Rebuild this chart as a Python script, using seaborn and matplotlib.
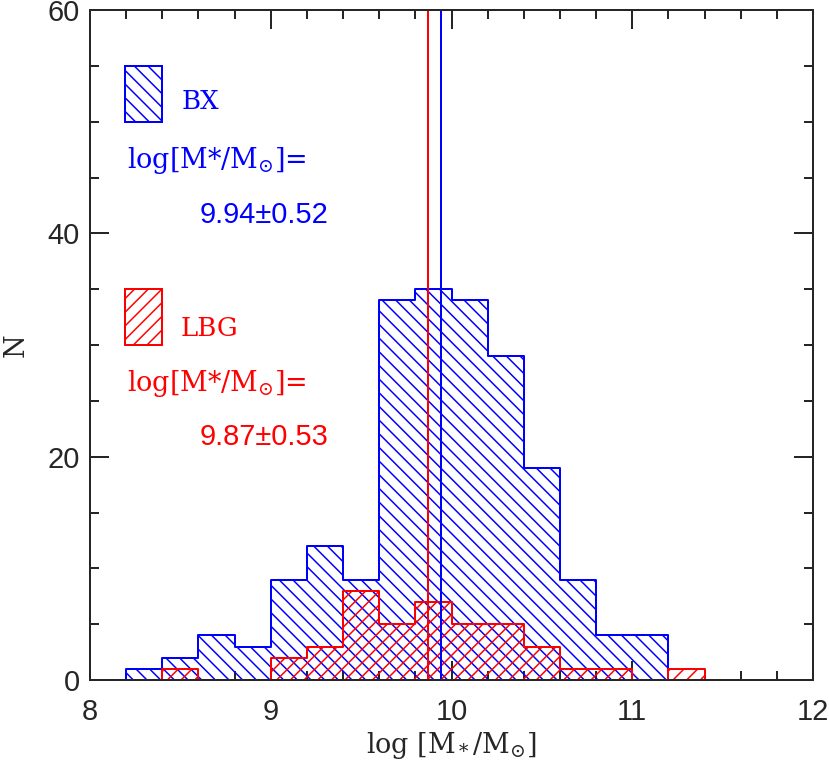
import numpy as np
import seaborn as sns
import matplotlib.pyplot as plt
from matplotlib.patches import Rectangle
from matplotlib.ticker import MultipleLocator

# bin edges (log M*/Msun), width 0.2
bin_edges = [8.2, 8.4, 8.6, 8.8, 9.0, 9.2, 9.4, 9.6, 9.8, 10.0,
             10.2, 10.4, 10.6, 10.8, 11.0, 11.2, 11.4]
bx_counts = [1, 2, 4, 3, 9, 12, 9, 34, 35, 34, 29, 19, 9, 4, 4, 0]
lbg_counts = [0, 1, 0, 0, 2, 3, 8, 5, 7, 5, 5, 3, 1, 1, 0, 1]
bx_mean, bx_sig = 9.94, 0.52
lbg_mean, lbg_sig = 9.87, 0.53

centers = [(a + b) / 2 for a, b in zip(bin_edges[:-1], bin_edges[1:])]

DPI = 82
px = 72 / DPI  # points per pixel, so sizes below are given in pixels

sns.set_style("ticks")
plt.rcParams["font.family"] = ["DejaVu Serif"]
plt.rcParams["mathtext.fontset"] = "dejavuserif"
plt.rcParams["hatch.linewidth"] = 1.5 * px

fig = plt.figure(figsize=(830 / DPI, 765 / DPI), dpi=DPI)
ax = fig.add_axes([90 / 830, 1 - 680 / 765, 723 / 830, 670 / 765])

sns.histplot(x=centers, weights=bx_counts, bins=bin_edges, element="step",
             fill=True, color="blue", facecolor="none", edgecolor="blue",
             hatch="\\\\", linewidth=2 * px, ax=ax)
sns.histplot(x=centers, weights=lbg_counts, bins=bin_edges, element="step",
             fill=True, color="red", facecolor="none", edgecolor="red",
             hatch="//", linewidth=2 * px, ax=ax)

ax.axvline(bx_mean, color="blue", lw=2 * px)
ax.axvline(lbg_mean, color="red", lw=2 * px)

ax.set_xlim(8, 12)
ax.set_ylim(0, 60)
ax.xaxis.set_major_locator(MultipleLocator(1))
ax.xaxis.set_minor_locator(MultipleLocator(0.2))
ax.yaxis.set_major_locator(MultipleLocator(20))
ax.yaxis.set_minor_locator(MultipleLocator(5))
ax.tick_params(which="both", direction="in", top=True, right=True, width=2 * px)
ax.tick_params(which="major", length=19 * px, labelsize=29 * px)
ax.tick_params(axis="x", which="major", pad=18 * px)
ax.tick_params(axis="y", which="major", pad=10 * px)
ax.tick_params(which="minor", length=9 * px)
for lab in ax.get_xticklabels() + ax.get_yticklabels():
    lab.set_family("Liberation Sans")
for sp in ax.spines.values():
    sp.set_linewidth(2 * px)

ax.set_xlabel(r"log [M$_*$/M$_{\odot}$]", fontsize=27 * px)
ax.set_ylabel("N", fontsize=27 * px)
ax.xaxis.set_label_coords(0.5, -0.075)
ax.yaxis.set_label_coords(-0.083, 0.5)

# legend-like annotations
ax.add_patch(Rectangle((0.0484, 0.833), 0.0512, 0.083, transform=ax.transAxes,
                       facecolor="none", edgecolor="blue", hatch="\\\\",
                       lw=2 * px))
ax.add_patch(Rectangle((0.0484, 0.500), 0.0512, 0.083, transform=ax.transAxes,
                       facecolor="none", edgecolor="red", hatch="//",
                       lw=2 * px))
ax.text(0.126, 0.863, "BX", color="blue", fontsize=26 * px, va="center",
        transform=ax.transAxes)
ax.text(0.126, 0.525, "LBG", color="red", fontsize=26 * px, va="center",
        transform=ax.transAxes)
ax.text(0.051, 0.776, r"log[M*/M$_{\odot}$]=", color="blue", fontsize=27 * px,
        va="center", transform=ax.transAxes)
ax.text(0.051, 0.443, r"log[M*/M$_{\odot}$]=", color="red", fontsize=27 * px,
        va="center", transform=ax.transAxes)
ax.text(0.152, 0.694, f"{bx_mean:.2f}\u00b1{bx_sig:.2f}", color="blue",
        fontsize=29 * px, va="center", family="Liberation Sans",
        transform=ax.transAxes)
ax.text(0.152, 0.363, f"{lbg_mean:.2f}\u00b1{lbg_sig:.2f}", color="red",
        fontsize=29 * px, va="center", family="Liberation Sans",
        transform=ax.transAxes)

fig.savefig("out.png", dpi=DPI)
